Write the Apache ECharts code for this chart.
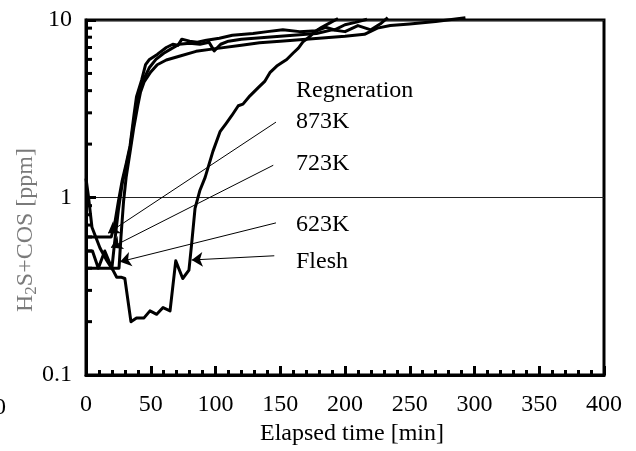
<!DOCTYPE html>
<html>
<head>
<meta charset="utf-8">
<script src="https://cdn.jsdelivr.net/npm/echarts@6/dist/echarts.min.js"></script>
<style>
  html, body { margin: 0; padding: 0; background: #fff; }
  #chart { width: 636px; height: 451px; }
</style>
</head>
<body>
<div id="chart"></div>
<script>
// Outlet H2S+COS concentration versus elapsed time for fresh and regenerated sorbent
const fleshTime = [0, 2, 4.6, 10.8, 15.4, 20.8, 23.7, 27, 30, 34.7, 39, 44.8, 49.4, 54.6, 59.5, 64.9, 69.3, 74.7, 79.5, 81.6, 84.2, 88, 92, 98, 103.5, 108, 112.5, 117.6, 121.2, 126.6, 133, 138.2, 142, 147.3, 151.1, 155, 160, 164, 167.8, 171.4, 176.8, 182, 188, 194.6];
const fleshPpm  = [1.28, 1.0, 0.68, 0.52, 0.45, 0.39, 0.356, 0.356, 0.35, 0.2, 0.21, 0.21, 0.23, 0.22, 0.24, 0.23, 0.44, 0.35, 0.39, 0.55, 0.87, 1.1, 1.3, 1.82, 2.35, 2.6, 2.89, 3.29, 3.36, 3.74, 4.16, 4.53, 5.05, 5.5, 5.74, 5.99, 6.52, 6.95, 7.57, 7.91, 8.61, 9.1, 9.6, 10.2];

const k873Time = [0, 19.5, 22, 25, 28, 31, 34, 37, 39, 43, 46, 49, 55, 62, 67, 71, 74, 80, 86, 93, 103, 113, 129, 140, 152, 165, 178, 185, 192, 200, 208, 217];
const k873Ppm  = [0.6, 0.6, 0.7, 0.95, 1.25, 1.55, 1.95, 2.9, 3.7, 4.6, 5.6, 6.0, 6.4, 7.0, 7.3, 7.2, 7.8, 7.6, 7.5, 7.7, 7.9, 8.2, 8.4, 8.6, 8.8, 8.6, 8.7, 9.1, 8.8, 9.4, 9.7, 10.1];

const k723Time = [0, 5, 9.5, 14.5, 20, 22, 25, 28, 31, 34, 37, 40, 42, 45, 49, 54, 60, 66, 72, 80, 88, 95, 99, 104, 110, 120, 140, 160, 178, 190, 200, 210, 220, 228, 233];
const k723Ppm  = [0.5, 0.5, 0.4, 0.5, 0.4, 0.55, 0.85, 1.2, 1.5, 1.9, 2.7, 3.6, 4.0, 4.7, 5.4, 6.0, 6.5, 6.9, 7.3, 7.4, 7.3, 7.5, 6.7, 7.3, 7.6, 7.8, 8.0, 8.2, 8.4, 8.8, 8.6, 9.3, 8.8, 9.6, 10.3];

const k623Time = [0, 25.5, 27, 29, 31, 34, 37, 40, 42, 45, 50, 55, 62, 72, 85, 100, 120, 134, 150, 165, 180, 200, 215, 225, 235, 250, 270, 293];
const k623Ppm  = [0.4, 0.4, 0.6, 0.95, 1.3, 1.8, 2.5, 3.3, 3.9, 4.5, 5.1, 5.6, 5.95, 6.25, 6.66, 6.9, 7.2, 7.45, 7.6, 7.74, 7.9, 8.1, 8.3, 9.0, 9.3, 9.5, 9.8, 10.3];

// Log-axis minor tick values (2..9 within each decade)
const yMinorTicks = [0.2, 0.3, 0.4, 0.5, 0.6, 0.7, 0.8, 0.9, 2, 3, 4, 5, 6, 7, 8, 9];

// Leader lines: label, start (time, ppm), arrow tip (time, ppm)
const leaderLabels = ['873K', '723K', '623K', 'Flesh'];
const leaderFrom = [[146.7, 2.66], [144.6, 1.52], [146.7, 0.72], [145.4, 0.47]];
const leaderTo   = [[17, 0.63], [19.3, 0.523], [26.3, 0.435], [81.6, 0.445]];

const FONT = 'Liberation Serif, Times New Roman, serif';

function pairs(xs, ys) { return xs.map((x, i) => [x, ys[i]]); }

const chart = echarts.init(document.getElementById('chart'), null, { renderer: 'canvas' });

const curveStyle = { color: '#000', width: 3, join: 'round' };
function curve(name, xs, ys) {
  return {
    name, type: 'line', data: pairs(xs, ys), showSymbol: false, symbol: 'none',
    clip: false, lineStyle: curveStyle, itemStyle: { color: '#000' }, z: 3
  };
}

function label(text, y) {
  return { type: 'text', x: 296, y, style: { text, fontFamily: FONT, fontSize: 24, fill: '#000', verticalAlign: 'middle' } };
}

const option = {
  animation: false,
  backgroundColor: '#fff',
  grid: { left: 86, right: 32, top: 20, bottom: 72, show: true, borderColor: '#000', borderWidth: 3 },
  xAxis: {
    type: 'value', min: 0, max: 400, interval: 50,
    axisLine: { show: true, onZero: false, lineStyle: { color: '#000', width: 3 } },
    axisTick: { show: true, inside: true, length: 9, lineStyle: { color: '#000', width: 3 } },
    minorTick: { show: true, splitNumber: 5, length: 5, lineStyle: { color: '#000', width: 3 } },
    splitLine: { show: false },
    axisLabel: { color: '#000', fontFamily: FONT, fontSize: 24, margin: 18 },
    name: 'Elapsed time [min]', nameLocation: 'middle', nameGap: 39,
    nameTextStyle: { color: '#000', fontFamily: FONT, fontSize: 24, padding: [0, 0, 0, 14] }
  },
  yAxis: {
    type: 'log', logBase: 10, min: 0.1, max: 10,
    axisLine: { show: true, onZero: false, lineStyle: { color: '#000', width: 3 } },
    axisTick: { show: true, inside: true, length: 10, lineStyle: { color: '#000', width: 3 } },
    splitLine: { show: true, lineStyle: { color: '#222', width: 1 } },
    axisLabel: {
      color: '#000', fontFamily: FONT, fontSize: 24, margin: 14, padding: [5, 0, 0, 0],
      formatter: v => String(+Number(v).toPrecision(3))
    }
  },
  graphic: [
    {
      type: 'text', x: 26, y: 230, rotation: Math.PI / 2,
      style: {
        text: '{a|H}{b|2}{a|S+COS [ppm]}',
        align: 'center', verticalAlign: 'middle', fill: '#7a7a7a',
        rich: {
          a: { fontFamily: FONT, fontSize: 24, fill: '#7a7a7a', lineHeight: 28 },
          b: { fontFamily: FONT, fontSize: 17, fill: '#7a7a7a', lineHeight: 28, verticalAlign: 'bottom', padding: [10, 0, 0, 0] }
        }
      }
    },
    label('Regneration', 91),
    label(leaderLabels[0], 122),
    label(leaderLabels[1], 164),
    label(leaderLabels[2], 225),
    label(leaderLabels[3], 262),
    { type: 'text', x: -6, y: 408, style: { text: '0', fontFamily: FONT, fontSize: 24, fill: '#000', verticalAlign: 'middle' } }
  ],
  series: [
    curve('Flesh', fleshTime, fleshPpm),
    curve('873K', k873Time, k873Ppm),
    curve('723K', k723Time, k723Ppm),
    curve('623K', k623Time, k623Ppm),
    {
      name: 'leaders', type: 'line', data: [], silent: true,
      markLine: {
        silent: true, animation: false,
        symbol: ['none', 'arrow'], symbolSize: 11,
        label: { show: false },
        lineStyle: { color: '#000', width: 1, type: 'solid' },
        emphasis: { disabled: true },
        data: leaderFrom.map((p, i) => [{ coord: p }, { coord: leaderTo[i] }])
      }
    },
    {
      name: 'yMinorTicks', type: 'custom', silent: true, z: 4,
      data: yMinorTicks.map(v => [0, v]),
      renderItem: (params, api) => {
        const p = api.coord([0, api.value(1)]);
        return {
          type: 'line',
          shape: { x1: p[0], y1: p[1], x2: p[0] + 6, y2: p[1] },
          style: { stroke: '#000', lineWidth: 3 }
        };
      }
    }
  ]
};

chart.setOption(option);
</script>
</body>
</html>
